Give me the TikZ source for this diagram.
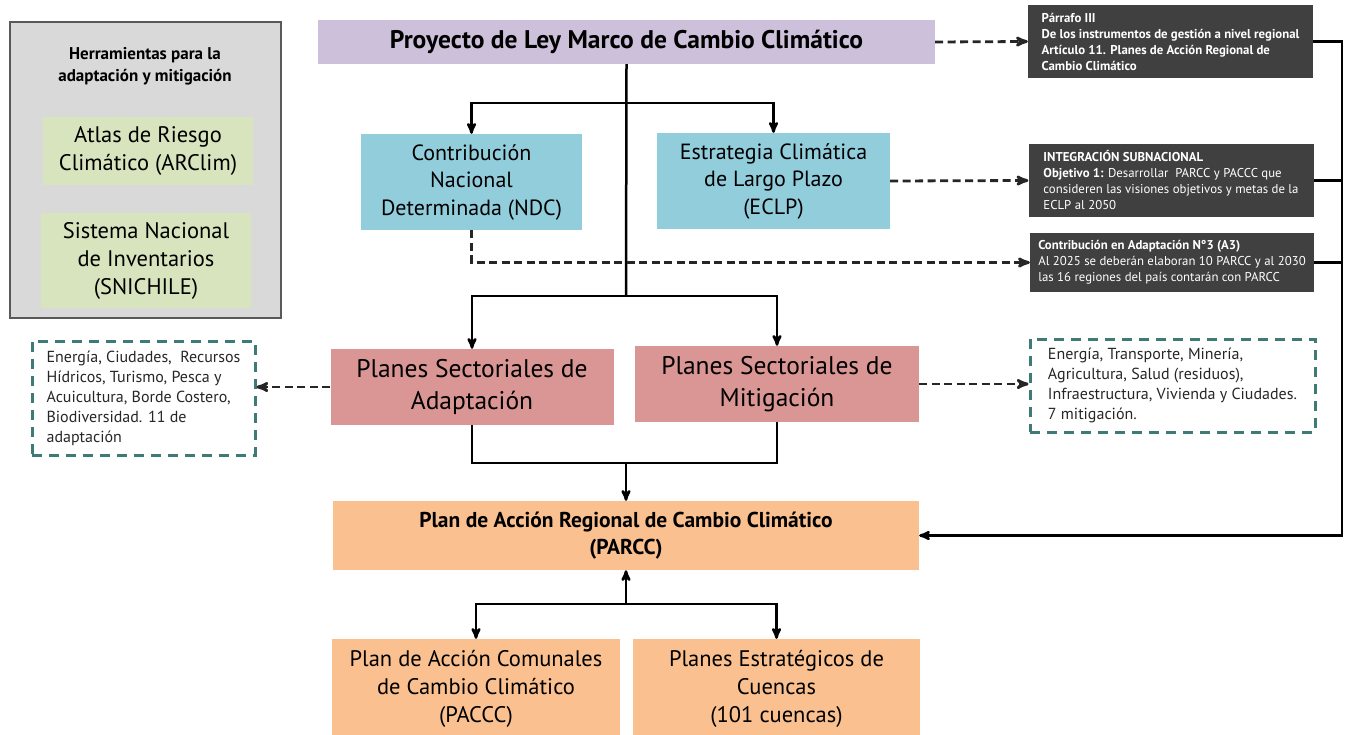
\documentclass[tikz,border=0pt]{standalone}
\usepackage{fontspec}
\setmainfont{PT Sans}
\usepackage{tikz}
\usetikzlibrary{positioning, calc}
\usetikzlibrary{arrows}

\definecolor{toolgrey}{HTML}{D9D9D9}
\definecolor{toolgreen}{HTML}{D7E4BD}
\definecolor{leypurple}{HTML}{CCC0DA}
\definecolor{ndcblue}{HTML}{92CDDC}
\definecolor{planrose}{HTML}{DA9694}
\definecolor{parccorange}{HTML}{FAC090}
\definecolor{notedark}{HTML}{404040}
\definecolor{listteal}{HTML}{3E7B76}
\definecolor{dashgrey}{HTML}{262626}

\newcommand{\fs}[2]{\fontsize{#1}{#2}\selectfont}

\begin{document}
\begin{tikzpicture}[x=1pt,y=-1pt,>=stealth',
  box/.style={inner sep=0pt, align=center},
  greenbox/.style={box, fill=toolgreen, minimum width=210pt, minimum height=68pt, font=\fs{22.5}{28}},
  bluebox/.style={box, fill=ndcblue, minimum height=96pt, font=\fs{22}{27.5}},
  rosebox/.style={box, fill=planrose, minimum height=76pt, font=\fs{25.5}{32}},
  orangebox/.style={box, fill=parccorange},
  notebox/.style={inner sep=0pt, align=left, fill=notedark, text=white, minimum width=285pt, font=\fs{12.8}{16}},
  listbox/.style={inner sep=0pt, align=left, draw=listteal, line width=3pt, dash pattern=on 10pt off 7pt, font=\fs{16}{20}, text=black!85},
  tree/.style={line width=2.5pt, black},
  link/.style={line width=2.8pt, dashgrey, dash pattern=on 8pt off 4.5pt, ->}]
\useasboundingbox (0,0) rectangle (1348,734);

% herramientas
\node[box, fill=toolgrey, draw=black!65, line width=1.3pt, minimum width=271pt, minimum height=296pt] (tools) at (145.5,170) {};
\node[box, font=\bfseries\fs{17}{22}] (toolstitle) at (145,66) {Herramientas para la\\adaptación y mitigación};
\node[greenbox] (atlas) at (148,151) {Atlas de Riesgo\\Climático (ARClim)};
\node[greenbox, minimum height=95pt] (snichile) at (146,260.5) {Sistema Nacional\\de Inventarios\\(SNICHILE)};

% arbol central
\node[box, fill=leypurple, minimum width=617pt, minimum height=44pt, font=\bfseries\fs{25.5}{28}] (ley) at (626.5,42) {Proyecto de Ley Marco de Cambio Climático};
\node[bluebox, minimum width=221pt] (ndc) at (471.5,182) {Contribución\\Nacional\\Determinada (NDC)};
\node[bluebox, minimum width=233pt] (eclp) at (773.5,181) {Estrategia Climática\\de Largo Plazo\\(ECLP)};
\node[rosebox, minimum width=283pt] (adapt) at (472,387) {Planes Sectoriales de\\Adaptación};
\node[rosebox, minimum width=284pt] (mitig) at (777,384) {Planes Sectoriales de\\Mitigación};
\node[orangebox, minimum width=586pt, minimum height=69pt, font=\bfseries\fs{21.5}{27}] (parcc) at (626,535.5) {Plan de Acción Regional de Cambio Climático\\(PARCC)};
\node[orangebox, minimum width=288pt, minimum height=100pt, font=\fs{22.5}{28}] (paccc) at (476,689) {Plan de Acción Comunales\\de Cambio Climático\\(PACCC)};
\node[orangebox, minimum width=287pt, minimum height=100pt, font=\fs{22.5}{28}] (cuencas) at (776.5,689) {Planes Estratégicos de\\Cuencas\\(101 cuencas)};

% notas de la derecha
\node[notebox, minimum height=73pt] (parrafo) at (1170.5,41.5) {\textbf{Párrafo III}\\\textbf{De los instrumentos de gestión a nivel regional}\\\textbf{Artículo 11. Planes de Acción Regional de}\\\textbf{Cambio Climático}};
\node[notebox, minimum height=73pt] (integ) at (1171,180.5) {\textbf{INTEGRACIÓN SUBNACIONAL}\\\textbf{Objetivo 1:} Desarrollar\ \ PARCC y PACCC que\\consideren las visiones objetivos y metas de la\\ECLP al 2050};
\node[notebox, minimum height=59pt, minimum width=284pt] (contrib) at (1172,262.5) {\textbf{Contribución en Adaptación N°3 (A3)}\\Al 2025 se deberán elaboran 10 PARCC y al 2030\\las 16 regiones del país contarán con PARCC};

% listas sectoriales
\node[listbox, minimum width=223pt, minimum height=114pt] (adaptlist) at (143.5,398) {Energía, Ciudades,\ \ Recursos\\Hídricos, Turismo, Pesca y\\Acuicultura, Borde Costero,\\Biodiversidad. 11 de\\adaptación};
\node[listbox, minimum width=285pt, minimum height=93pt] (mitiglist) at (1172.5,385.5) {Energía, Transporte, Minería,\\Agricultura, Salud (residuos),\\Infraestructura, Vivienda y Ciudades.\\7 mitigación.};

\coordinate (split1) at (626,103);
\coordinate (split2) at (626,296);
\coordinate (join1) at (626,463);
\coordinate (split3) at (626,604);
\coordinate (rail) at (1342,0);

% conectores
\draw[tree] (ley.south) -- (split2);
\draw[tree, ->] (split1) -| (ndc.north);
\draw[tree, ->] (split1) -| (eclp.north);
\draw[tree, ->] (split2) -| (adapt.north);
\draw[tree, ->] (split2) -| (mitig.north);
\draw[tree] (adapt.south) |- (join1) -| (mitig.south);
\draw[tree, ->] (join1) -- (parcc.north);
\draw[tree, ->] (split3) -- (parcc.south);
\draw[tree, ->] (split3) -| (paccc.north);
\draw[tree, ->] (split3) -| (cuencas.north);
\draw[tree, ->] (parrafo.east) -- (parrafo.east -| rail) |- (parcc.east);
\draw[tree] (integ.east) -- (integ.east -| rail);
\draw[tree] (contrib.east) -- (contrib.east -| rail);

\draw[link] (ley.east) -- (parrafo.west);
\draw[link] (eclp.east) -- (integ.west);
\draw[link] (ndc.south) |- (contrib.west);
\draw[link] (adapt.west) -- (adapt.west -| adaptlist.east);
\draw[link] (mitig.east) -- (mitig.east -| mitiglist.west);
\end{tikzpicture}
\end{document}
